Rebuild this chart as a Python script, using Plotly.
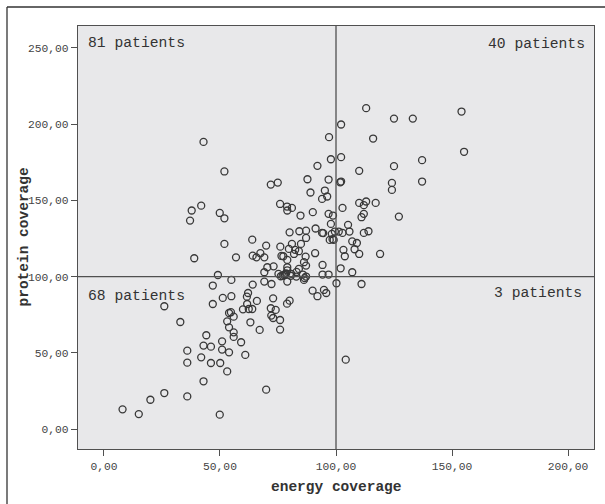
import plotly.graph_objects as go

energy = [8.0, 15.0, 20.0, 26.0, 35.9, 26.0, 32.9, 35.9, 35.9, 42.9, 41.9, 42.9, 44.1, 46.1, 46.1,
          50.1, 50.9, 50.9, 53.9, 53.1, 49.9, 69.9, 60.9, 59.1, 55.9, 55.9, 53.9, 53.1, 54.7, 55.9,
          53.9, 46.9, 51.2, 54.9, 46.9, 49.1, 54.9, 59.9, 61.6, 62.1, 61.7, 62.4, 63.9, 63.1, 65.9,
          67.1, 64.1, 69.1, 72.2, 72.9, 71.9, 74.0, 72.1, 72.9, 75.9, 75.9, 78.9, 80.0, 79.0, 75.2,
          76.2, 77.7, 79.0, 80.7, 82.9, 85.7, 86.2, 87.1, 89.9, 92.0, 94.8, 95.8, 100.2, 104.2, 111.0,
          107.0, 94.2, 96.8, 94.2, 102.0, 69.1, 70.4, 73.1, 69.1, 65.7, 64.1, 67.4, 69.9, 63.9, 56.9,
          51.9, 38.9, 37.1, 37.8, 41.9, 49.9, 51.9, 51.9, 42.9, 76.0, 77.3, 79.0, 79.7, 81.0, 81.9,
          82.4, 84.0, 84.9, 80.0, 84.2, 87.1, 87.1, 86.9, 87.1, 86.2, 84.0, 79.0, 91.0, 91.2, 94.0,
          90.0, 84.7, 75.9, 78.9, 79.0, 81.0, 71.9, 74.9, 87.7, 89.0, 92.0, 94.0, 95.2, 96.2, 97.0,
          97.8, 96.8, 96.8, 98.7, 97.8, 97.3, 98.5, 98.2, 99.5, 101.2, 102.8, 102.2, 102.2, 102.2, 101.8,
          102.8, 103.2, 103.8, 105.2, 105.8, 110.0, 113.0, 116.0, 110.0, 112.0, 113.0, 111.0, 112.0, 112.0,
          114.0, 107.0, 109.0, 108.0, 110.0, 117.1, 119.0, 127.1, 124.1, 124.1, 125.0, 125.0, 133.1, 137.1,
          137.1, 154.1, 155.2, 77.0, 78.5, 83.0, 86.5, 76.5, 78.0, 80.5, 94.5, 99.0]
protein = [12.9, 9.8, 19.2, 23.6, 21.4, 80.5, 70.2, 51.4, 43.5, 31.3, 47.0, 54.7, 61.5, 54.0, 43.3,
           43.3, 57.5, 52.1, 50.3, 37.8, 9.4, 25.8, 48.6, 56.9, 60.4, 63.4, 66.7, 70.6, 76.6, 73.7,
           76.1, 82.0, 86.0, 87.1, 94.1, 101.0, 97.8, 78.5, 86.8, 89.2, 82.0, 78.7, 78.7, 70.0, 84.0,
           65.0, 94.7, 96.7, 95.1, 85.7, 79.2, 78.1, 74.4, 72.8, 71.5, 65.2, 82.2, 84.2, 96.7, 101.7,
           100.2, 101.0, 104.1, 101.7, 100.0, 101.3, 97.8, 100.0, 90.8, 87.1, 91.2, 89.2, 95.6, 45.5, 95.1,
           102.8, 101.3, 101.3, 107.6, 105.4, 102.8, 106.1, 106.7, 112.6, 112.6, 113.7, 115.3, 120.3, 124.2, 112.6,
           121.4, 112.0, 136.7, 143.3, 146.5, 141.7, 138.2, 168.9, 188.3, 119.6, 113.3, 110.9, 118.1, 121.4, 114.8,
           117.5, 116.6, 121.4, 129.0, 129.7, 130.1, 125.3, 113.1, 107.2, 109.4, 105.0, 106.1, 115.3, 131.5, 128.6,
           142.2, 140.0, 147.6, 145.9, 143.3, 145.0, 160.3, 161.6, 163.8, 155.1, 172.6, 150.9, 156.4, 152.5, 191.4,
           176.9, 163.6, 141.1, 140.0, 134.5, 124.0, 124.5, 128.0, 129.5, 129.5, 128.6, 178.3, 199.7, 162.3, 161.8,
           145.0, 117.5, 113.3, 133.9, 129.5, 169.3, 210.4, 190.5, 148.3, 146.8, 149.2, 138.9, 141.1, 128.6,
           129.7, 123.1, 122.0, 117.9, 114.8, 148.3, 114.8, 139.3, 161.4, 156.8, 172.4, 203.6, 203.6, 176.3,
           162.3, 208.2, 181.8, 100.5, 102.0, 103.0, 99.0, 113.5, 101.5, 100.5, 128.5, 124.0]

xticks = [0, 50, 100, 150, 200]
yticks = [0, 50, 100, 150, 200, 250]
xticklabels = ["0,00", "50,00", "100,00", "150,00", "200,00"]
yticklabels = ["0,00", "50,00", "100,00", "150,00", "200,00", "250,00"]
quadrant_labels = ["81 patients", "40 patients", "68 patients", "3 patients"]
x_title = "energy coverage"
y_title = "protein coverage"

FONT = "Liberation Mono, Courier New, monospace"
LINE = "#505050"
TXT = "#333333"

fig = go.Figure()
fig.add_trace(go.Scatter(
    x=energy, y=protein, mode="markers",
    marker=dict(symbol="circle-open", size=7, color="#383838", line=dict(width=1.3, color="#383838")),
    showlegend=False, hoverinfo="x+y"))

fig.add_hline(y=100, line=dict(color=LINE, width=1.3))
fig.add_vline(x=100, line=dict(color=LINE, width=1.3))

W, H = 605, 504
ml, mr, mt, mb = 78, 11, 26, 55
pw, ph = W - ml - mr, H - mt - mb

def px2paper_x(px):
    return (px - ml) / pw

def px2paper_y(py):
    return (H - mb - py) / ph

# outer figure frame (top and left edges visible in the reference)
fig.add_shape(type="line", xref="paper", yref="paper",
              x0=px2paper_x(7), x1=px2paper_x(610), y0=px2paper_y(7), y1=px2paper_y(7),
              line=dict(color="#333333", width=1.3))
fig.add_shape(type="line", xref="paper", yref="paper",
              x0=px2paper_x(7), x1=px2paper_x(7), y0=px2paper_y(7), y1=px2paper_y(520),
              line=dict(color="#333333", width=1.3))

ann_font = dict(family=FONT, size=14.7, color=TXT)
fig.add_annotation(xref="paper", yref="paper", x=px2paper_x(86), y=px2paper_y(43), text=quadrant_labels[0],
                   showarrow=False, xanchor="left", yanchor="middle", font=ann_font)
fig.add_annotation(xref="paper", yref="paper", x=px2paper_x(587), y=px2paper_y(44), text=quadrant_labels[1],
                   showarrow=False, xanchor="right", yanchor="middle", font=ann_font)
fig.add_annotation(xref="paper", yref="paper", x=px2paper_x(86), y=px2paper_y(296), text=quadrant_labels[2],
                   showarrow=False, xanchor="left", yanchor="middle", font=ann_font)
fig.add_annotation(xref="paper", yref="paper", x=px2paper_x(584), y=px2paper_y(293), text=quadrant_labels[3],
                   showarrow=False, xanchor="right", yanchor="middle", font=ann_font)

title_font = dict(family=FONT, size=14.5, color=TXT)
fig.add_annotation(xref="paper", yref="paper", x=0.5, y=px2paper_y(487), text="<b>" + x_title + "</b>",
                   showarrow=False, xanchor="center", yanchor="middle", font=title_font)
fig.add_annotation(xref="paper", yref="paper", x=px2paper_x(23), y=0.5, text="<b>" + y_title + "</b>",
                   showarrow=False, xanchor="center", yanchor="middle", textangle=-90, font=title_font)

fig.update_layout(
    width=W, height=H,
    margin=dict(l=ml, r=mr, t=mt, b=mb, autoexpand=False),
    paper_bgcolor="white",
    plot_bgcolor="#e8e8ea",
    font=dict(family=FONT, color=TXT),
    xaxis=dict(range=[-11.2, 211.2], tickvals=xticks, ticktext=xticklabels,
               showgrid=False, zeroline=False, showline=True, mirror=True,
               linecolor=LINE, linewidth=1.3, ticks="outside", ticklen=6, tickcolor=LINE,
               tickfont=dict(family=FONT, size=11.3, color="#444444")),
    yaxis=dict(range=[-13.1, 264.3], tickvals=yticks, ticktext=yticklabels,
               showgrid=False, zeroline=False, showline=True, mirror=True,
               linecolor=LINE, linewidth=1.3, ticks="outside", ticklen=6, tickcolor=LINE,
               tickfont=dict(family=FONT, size=11.3, color="#444444")),
)

fig.write_html("out.html", config={"displayModeBar": False},
               post_script="document.body.style.margin='0';document.body.style.overflow='hidden';")
